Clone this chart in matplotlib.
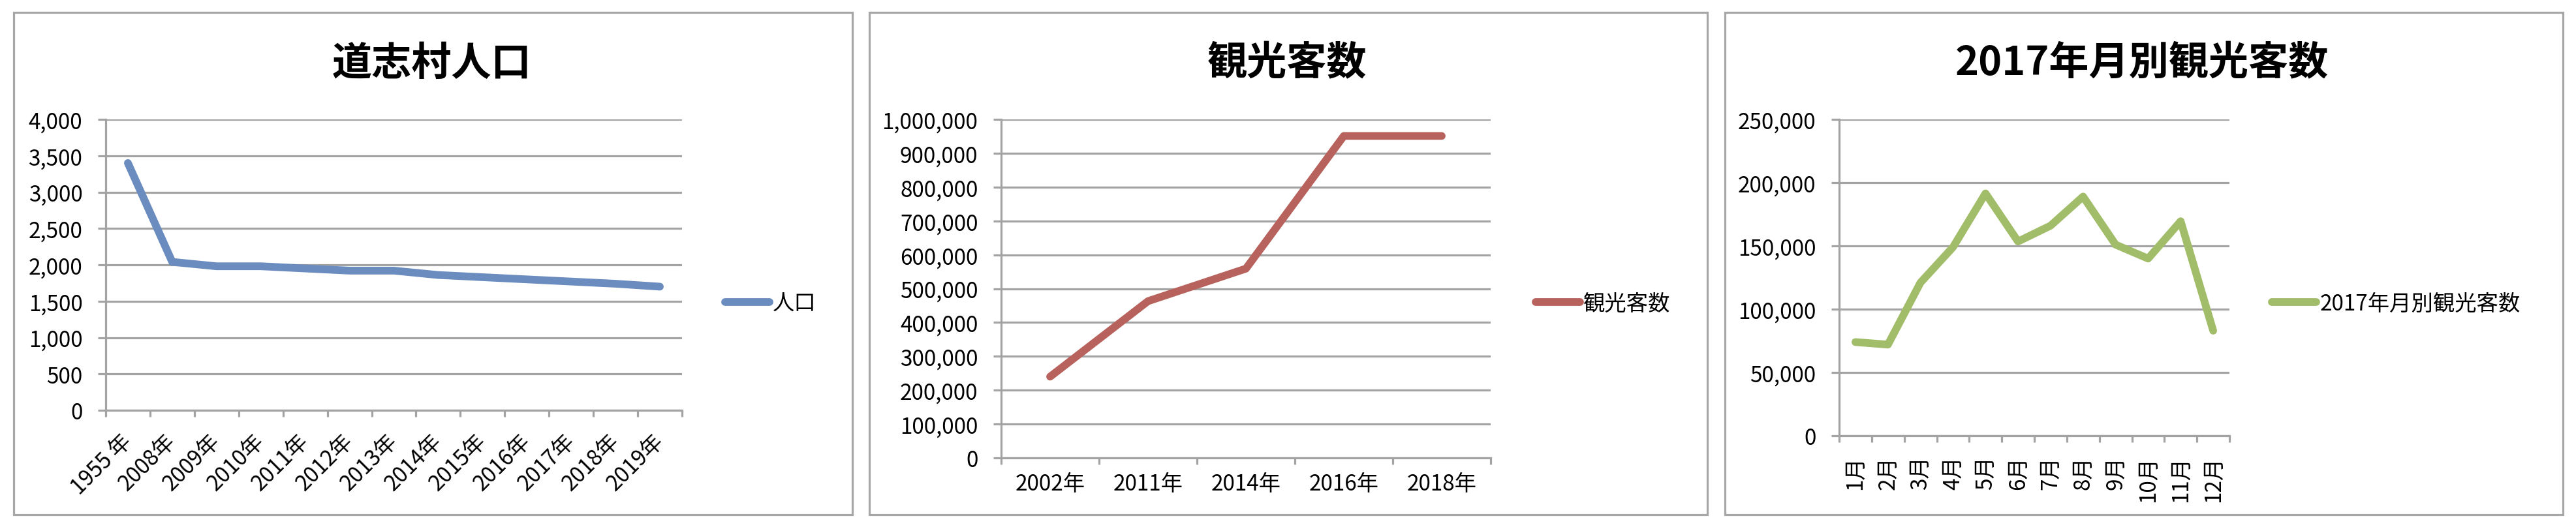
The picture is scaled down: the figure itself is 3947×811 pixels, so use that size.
import numpy as np
import matplotlib
matplotlib.use("Agg")
import matplotlib.pyplot as plt
from matplotlib.patches import Rectangle
from matplotlib.ticker import FuncFormatter

plt.rcParams['font.family'] = ['Noto Sans CJK JP', 'DejaVu Sans']

# ── data ─────────────────────────────────────────────────────────────────────
pop_years = ['1955 年', '2008年', '2009年', '2010年', '2011年', '2012年', '2013年',
             '2014年', '2015年', '2016年', '2017年', '2018年', '2019年']
pop_values = [3400, 2040, 1980, 1980, 1950, 1920, 1920, 1860, 1830, 1800, 1770, 1740, 1700]

tour_years = ['2002年', '2011年', '2014年', '2016年', '2018年']
tour_values = [240000, 463000, 559000, 951000, 951000]

months = ['1月', '2月', '3月', '4月', '5月', '6月', '7月', '8月', '9月', '10月', '11月', '12月']
month_values = [74000, 72000, 121000, 149000, 191500, 153500, 166000, 189000,
                151000, 140000, 169500, 83000]

# ── layout (pixels) ──────────────────────────────────────────────────────────
W, H = 3947, 812
DPI = 100
GRID = '#a3a3a3'
BLUE = '#6b8cbf'
RED = '#b7625c'
GREEN = '#a2bd6a'
TICK_FS = 24
TITLE_FS = 44
LW = 8.5

fig = plt.figure(figsize=(W / DPI, H / DPI), dpi=DPI)
fig.patch.set_facecolor('white')


def px_axes(l, t, r, b):
    return fig.add_axes([l / W, 1 - b / H, (r - l) / W, (b - t) / H])


def border(l, t, r, b):
    fig.patches.append(Rectangle((l / W, 1 - b / H), (r - l) / W, (b - t) / H,
                                 transform=fig.transFigure, fill=False,
                                 edgecolor='#a6a6a6', linewidth=2.3))


comma = FuncFormatter(lambda v, p: f'{int(v):,}')


def style_axes(ax, n, ymax, ystep):
    ax.set_xlim(0, n)
    ax.set_ylim(0, ymax)
    ax.set_yticks(np.arange(0, ymax + 1, ystep))
    ax.yaxis.set_major_formatter(comma)
    ax.yaxis.grid(True, color=GRID, linewidth=2.3)
    ax.set_axisbelow(True)
    for s in ['top', 'right']:
        ax.spines[s].set_visible(False)
    for s in ['left', 'bottom']:
        ax.spines[s].set_color(GRID)
        ax.spines[s].set_linewidth(2.3)
    ax.tick_params(axis='y', length=8.6, width=2.3, color=GRID, pad=17,
                   labelsize=TICK_FS)
    ax.set_xticks(np.arange(n + 1))
    ax.set_xticklabels([])
    ax.tick_params(axis='x', which='major', length=7.5, width=2.3, color=GRID)
    ax.set_xticks(np.arange(n) + 0.5, minor=True)
    ax.tick_params(axis='x', which='minor', length=0, labelsize=TICK_FS)


def add_legend(ax, line, label, x, y):
    ax.legend([line], [label], loc='center left',
              bbox_to_anchor=(x / W, 1 - y / H), bbox_transform=fig.transFigure,
              frameon=False, fontsize=TICK_FS, handlelength=2.05,
              handletextpad=0.15, borderpad=0, borderaxespad=0)


# ── panel 1: 道志村人口 ───────────────────────────────────────────────────────
border(21, 20, 1306, 790)
ax1 = px_axes(162, 184, 1045, 630)
style_axes(ax1, len(pop_years), 4000, 500)
l1, = ax1.plot(np.arange(len(pop_years)) + 0.5, pop_values, color=BLUE, lw=LW,
               solid_capstyle='round', solid_joinstyle='round', clip_on=False)
ax1.set_xticklabels(pop_years, minor=True, rotation=45, ha='right', va='center',
                    rotation_mode='anchor')
ax1.tick_params(axis='x', which='minor', pad=30)
add_legend(ax1, l1, '人口', 1111, 466)
fig.text(661 / W, 1 - 98 / H, '道志村人口', ha='center', va='center',
         fontsize=TITLE_FS, fontweight='bold')

# ── panel 2: 観光客数 ─────────────────────────────────────────────────────────
border(1332, 20, 2616, 790)
ax2 = px_axes(1534, 184, 2284, 703)
style_axes(ax2, len(tour_years), 1000000, 100000)
l2, = ax2.plot(np.arange(len(tour_years)) + 0.5, tour_values, color=RED, lw=LW,
               solid_capstyle='round', solid_joinstyle='round', clip_on=False)
ax2.set_xticklabels(tour_years, minor=True)
ax2.tick_params(axis='x', which='minor', pad=16)
add_legend(ax2, l2, '観光客数', 2353, 466)
fig.text(1972 / W, 1 - 98 / H, '観光客数', ha='center', va='center',
         fontsize=TITLE_FS, fontweight='bold')

# ── panel 3: 2017年月別観光客数 ──────────────────────────────────────────────
border(2643, 20, 3927, 790)
ax3 = px_axes(2818, 184, 3416, 669)
style_axes(ax3, len(months), 250000, 50000)
l3, = ax3.plot(np.arange(len(months)) + 0.5, month_values, color=GREEN, lw=LW,
               solid_capstyle='round', solid_joinstyle='round', clip_on=False)
ax3.set_xticklabels(months, minor=True, rotation=90, ha='center', va='top')
ax3.tick_params(axis='x', which='minor', pad=22)
add_legend(ax3, l3, '2017年月別観光客数', 3481, 466)
fig.text(3282 / W, 1 - 98 / H, '2017年月別観光客数', ha='center', va='center',
         fontsize=TITLE_FS, fontweight='bold')

fig.savefig('out.png', dpi=DPI)
